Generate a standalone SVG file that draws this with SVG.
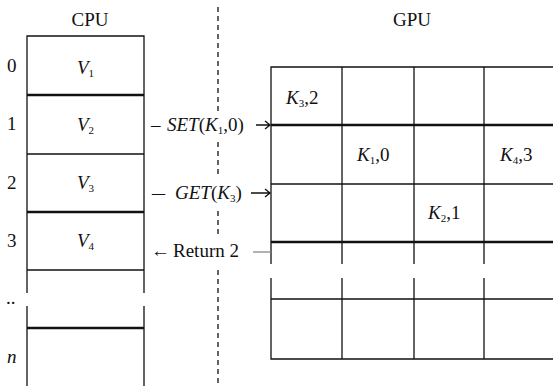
<svg xmlns="http://www.w3.org/2000/svg" width="553" height="386" viewBox="0 0 553 386">
<style>
text{font-family:"Liberation Serif","Times New Roman",serif;font-size:19px;fill:#111}
.i{font-style:italic}
.s{font-size:11px;font-style:normal}
.ln{stroke:#111;stroke-width:1.3;fill:none}
.tk{stroke:#111;stroke-width:2.4;fill:none}
.gr{stroke:#888;stroke-width:1.3}
.dl{stroke:#111;stroke-width:1.3;stroke-dasharray:5,4}
</style>
<rect width="553" height="386" fill="#fff"/>
<g id="titles">
<text x="90" y="26" text-anchor="middle">CPU</text>
<text x="412" y="26" text-anchor="middle">GPU</text>
</g>
<g id="cpu">
<path class="ln" d="M27,386V36H144V386"/>
<line class="tk" x1="27" y1="95" x2="144" y2="95"/>
<line class="ln" x1="27" y1="154" x2="144" y2="154"/>
<line class="tk" x1="27" y1="212" x2="144" y2="212"/>
<line class="ln" x1="27" y1="270" x2="144" y2="270"/>
<line class="tk" x1="27" y1="328" x2="144" y2="328"/>
<rect x="20" y="293" width="130" height="13" fill="#fff"/>
<text x="7" y="72">0</text>
<text x="7" y="130">1</text>
<text x="7" y="189">2</text>
<text x="7" y="247">3</text>
<text x="6" y="304">..</text>
<text x="7" y="363" class="i">n</text>
<text x="77" y="74" class="i">V<tspan class="s" dy="3">1</tspan></text>
<text x="77" y="131" class="i">V<tspan class="s" dy="3">2</tspan></text>
<text x="77" y="189" class="i">V<tspan class="s" dy="3">3</tspan></text>
<text x="77" y="247" class="i">V<tspan class="s" dy="3">4</tspan></text>
</g>
<g id="divider">
<line class="dl" x1="218" y1="7" x2="218" y2="111"/>
<line class="dl" x1="218" y1="142" x2="218" y2="178"/>
<line class="dl" x1="218" y1="211" x2="218" y2="237"/>
<line class="dl" x1="218" y1="270" x2="218" y2="386"/>
</g>
<g id="gpu">
<path class="ln" d="M271,264V67H553"/>
<line class="ln" x1="342" y1="67" x2="342" y2="264"/>
<line class="ln" x1="414" y1="67" x2="414" y2="264"/>
<line class="ln" x1="484" y1="67" x2="484" y2="264"/>
<line class="tk" x1="271" y1="125" x2="553" y2="125"/>
<line class="ln" x1="271" y1="184" x2="553" y2="184"/>
<line class="tk" x1="271" y1="242" x2="553" y2="242"/>
<path class="ln" d="M271,278V359H553"/>
<line class="ln" x1="342" y1="278" x2="342" y2="359"/>
<line class="ln" x1="414" y1="278" x2="414" y2="359"/>
<line class="ln" x1="484" y1="278" x2="484" y2="359"/>
<line class="ln" x1="271" y1="299" x2="553" y2="299"/>
<text x="286" y="104" class="i">K<tspan class="s" dy="3">3</tspan><tspan dy="-3" font-style="normal">,2</tspan></text>
<text x="357" y="161" class="i">K<tspan class="s" dy="3">1</tspan><tspan dy="-3" font-style="normal">,0</tspan></text>
<text x="500" y="161" class="i">K<tspan class="s" dy="3">4</tspan><tspan dy="-3" font-style="normal">,3</tspan></text>
<text x="428" y="219" class="i">K<tspan class="s" dy="3">2</tspan><tspan dy="-3" font-style="normal">,1</tspan></text>
</g>
<g id="connectors">
<text x="151" y="131">–</text>
<text x="167" y="131"><tspan class="i">SET</tspan>(<tspan class="i">K</tspan><tspan class="s" dy="3">1</tspan><tspan dy="-3">,0)</tspan></text>
<text x="152" y="199" textLength="13" lengthAdjust="spacingAndGlyphs">–</text>
<text x="175" y="199"><tspan class="i">GET</tspan>(<tspan class="i">K</tspan><tspan class="s" dy="3">3</tspan><tspan dy="-3">)</tspan></text>
<text x="151" y="257">←</text>
<text x="173" y="257">Return 2</text>
<path class="ln" d="M256,125H270M265,121L270,125L265,129"/>
<path class="ln" d="M251,193H270M265,189L270,193L265,197"/>
<line class="gr" x1="253" y1="252" x2="271" y2="252"/>
</g>
</svg>
